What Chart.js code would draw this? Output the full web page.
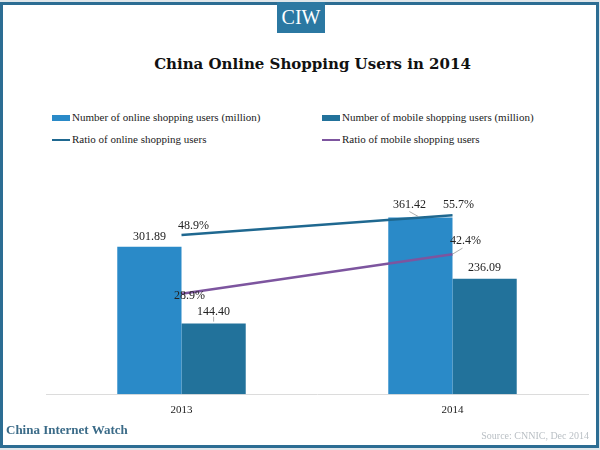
<!DOCTYPE html>
<html>
<head>
<meta charset="utf-8">
<script src="https://cdn.jsdelivr.net/npm/chart.js@4/dist/chart.umd.min.js"></script>
<style>
  html, body { margin:0; padding:0; width:600px; height:450px; overflow:hidden; background:#dfe6ea; }
  #frame { position:absolute; left:0; top:2px; width:599px; height:446px; box-sizing:border-box;
           border:3px solid #2c6d93; background:#fff; }
  #ciw { position:absolute; left:277px; top:2px; width:48px; height:31px; background:#2b78a2;
         color:#fff; font-family:"Liberation Serif", serif; font-size:20px; line-height:31px; text-align:center; }
  #title { position:absolute; left:0; width:600px; top:55px; text-align:center; padding-left:25px; box-sizing:border-box;
           font-family:"DejaVu Serif", serif; font-weight:bold; font-size:15px; color:#111; }
  .lg { position:absolute; font-family:"Liberation Serif", serif; font-size:11px; color:#222; white-space:nowrap; }
  .mk { display:inline-block; width:18px; vertical-align:middle; margin-right:2px; }
  #cv { position:absolute; left:0; top:0; }
  #brand { position:absolute; left:6px; top:422px; font-family:"Liberation Serif", serif; font-weight:bold; font-size:13px; color:#3b6b88; }
  #src { position:absolute; right:11px; top:430px; font-family:"Liberation Serif", serif; font-size:10px; color:#b9bfc4; }
</style>
</head>
<body>
<div id="frame"></div>
<div id="ciw">CIW</div>
<div id="title">China Online Shopping Users in 2014</div>
<div id="legend"></div>
<canvas id="cv" width="600" height="450"></canvas>
<div id="brand">China Internet Watch</div>
<div id="src">Source: CNNIC, Dec 2014</div>
<script>
const categories = ["2013", "2014"];
const onlineUsers = [301.89, 361.42];
const mobileUsers = [144.40, 236.09];
const onlineRatio = [48.9, 55.7];
const mobileRatio = [28.9, 42.4];
const seriesNames = ["Number of online shopping users (million)", "Number of mobile shopping users (million)",
                     "Ratio of online shopping  users", "Ratio of mobile shopping  users"];
const colors = ["#2a8ac8", "#22729b", "#1f6890", "#7d559f"];

// HTML legend
const legendPos = [[52,111,'bar'],[322,111,'bar'],[52,133,'line'],[322,133,'line']];
const lg = document.getElementById('legend');
seriesNames.forEach((n,i)=>{
  const d = document.createElement('div');
  d.className = 'lg';
  d.style.left = legendPos[i][0]+'px'; d.style.top = legendPos[i][1]+'px';
  const m = document.createElement('span');
  m.className = 'mk';
  m.style.height = legendPos[i][2]==='bar' ? '6px' : '2px';
  m.style.background = colors[i];
  d.appendChild(m);
  d.appendChild(document.createTextNode(n));
  lg.appendChild(d);
});

const labelPlugin = {
  id: 'labels',
  afterDatasetsDraw(chart) {
    const ctx = chart.ctx;
    ctx.save();
    ctx.font = '12px "Liberation Serif", serif';
    ctx.fillStyle = '#222';
    ctx.textAlign = 'center';
    ctx.textBaseline = 'middle';
    const fmt = [v=>v.toFixed(2), v=>v.toFixed(2), v=>v.toFixed(1)+'%', v=>v.toFixed(1)+'%'];
    const offs = [
      [[0,-10,false],[-11,-13,true]],
      [[0,-12,true],[0,-11,false]],
      [[12,-9,false],[6,-10,false]],
      [[8,2,false],[13,-13,true]]
    ];
    chart.data.datasets.forEach((ds, di) => {
      const meta = chart.getDatasetMeta(di);
      meta.data.forEach((el, pi) => {
        const o = offs[di][pi];
        const x = el.x + o[0], y = el.y + o[1];
        if (o[2]) {
          ctx.strokeStyle = '#999';
          ctx.lineWidth = 0.8;
          ctx.beginPath();
          if (di === 3) { ctx.moveTo(el.x, el.y); ctx.lineTo(el.x + 10, el.y - 6); }
          else if (di === 0) { ctx.moveTo(el.x - 2, el.y - 1); ctx.lineTo(el.x - 11, el.y - 6); }
          else { ctx.moveTo(el.x, el.y - 2); ctx.lineTo(el.x, el.y - 7); }
          ctx.stroke();
        }
        ctx.fillText(fmt[di](ds.data[pi]), x, y);
      });
    });
    ctx.restore();
  }
};

new Chart(document.getElementById('cv'), {
  type: 'bar',
  data: {
    labels: categories,
    datasets: [
      { type:'bar', label: seriesNames[0], data: onlineUsers, backgroundColor: colors[0], yAxisID:'y', order:2 },
      { type:'bar', label: seriesNames[1], data: mobileUsers, backgroundColor: colors[1], yAxisID:'y', order:2 },
      { type:'line', label: seriesNames[2], data: onlineRatio, borderColor: colors[2], borderWidth:2.5, pointRadius:0, yAxisID:'y2', order:1 },
      { type:'line', label: seriesNames[3], data: mobileRatio, borderColor: colors[3], borderWidth:2.5, pointRadius:0, yAxisID:'y2', order:1 }
    ]
  },
  options: {
    responsive:false, animation:false,
    layout: { padding: { left:46, right:12, top:170, bottom:32.6 } },
    plugins: { legend:{display:false}, tooltip:{enabled:false}, title:{display:false} },
    datasets: { bar: { categoryPercentage:0.474, barPercentage:1.0 } },
    scales: {
      x: { grid:{display:false}, border:{color:'#dcdcdc', width:1},
           ticks:{ padding:1, color:'#222', font:{family:'"Liberation Serif", serif', size:11} } },
      y: { display:false, min:0, max:458.7 },
      y2: { display:false, position:'right', min:-5.42, max:71.13 }
    }
  },
  plugins:[labelPlugin]
});
</script>
</body>
</html>
